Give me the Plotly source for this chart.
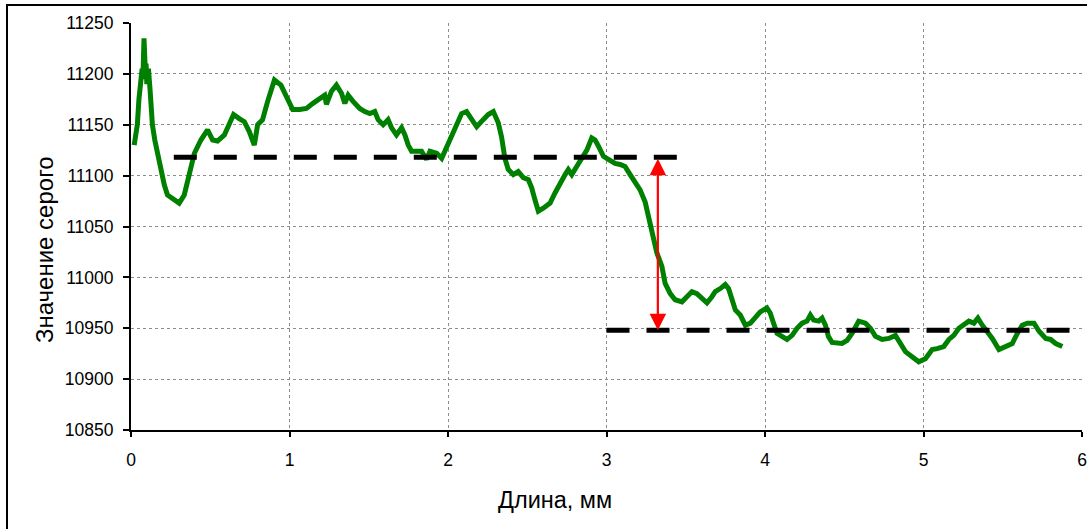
import plotly.graph_objects as go

# Profile data (length in mm, grey value)
length_mm = [0.02, 0.04, 0.05, 0.06, 0.07, 0.075, 0.082, 0.09, 0.095, 0.10, 0.11, 0.12, 0.135, 0.15,
             0.167, 0.188, 0.21, 0.23, 0.262, 0.285, 0.304, 0.336, 0.367, 0.40, 0.441, 0.483, 0.515,
             0.546, 0.589, 0.62, 0.647, 0.683, 0.715, 0.747, 0.778, 0.799, 0.83, 0.862, 0.905, 0.946,
             0.978, 1.02, 1.064, 1.107, 1.148, 1.2, 1.222, 1.233, 1.265, 1.296, 1.328, 1.349, 1.37,
             1.401, 1.443, 1.475, 1.507, 1.538, 1.559, 1.591, 1.622, 1.644, 1.675, 1.707, 1.728, 1.749,
             1.77, 1.802, 1.833, 1.865, 1.886, 1.928, 1.96, 1.98, 2.012, 2.044, 2.086, 2.117, 2.149,
             2.181, 2.222, 2.254, 2.286, 2.317, 2.338, 2.359, 2.38, 2.412, 2.443, 2.475, 2.507, 2.528,
             2.549, 2.57, 2.601, 2.644, 2.675, 2.707, 2.739, 2.759, 2.781, 2.812, 2.844, 2.876, 2.907,
             2.928, 2.949, 2.981, 3.012, 3.054, 3.086, 3.117, 3.149, 3.18, 3.212, 3.244, 3.265, 3.286,
             3.318, 3.349, 3.37, 3.402, 3.433, 3.476, 3.507, 3.539, 3.57, 3.602, 3.634, 3.665, 3.686,
             3.718, 3.749, 3.77, 3.792, 3.813, 3.844, 3.876, 3.908, 3.939, 3.97, 4.012, 4.033, 4.054,
             4.076, 4.107, 4.139, 4.171, 4.202, 4.234, 4.265, 4.286, 4.307, 4.339, 4.36, 4.381, 4.40,
             4.423, 4.455, 4.486, 4.518, 4.549, 4.591, 4.634, 4.665, 4.697, 4.739, 4.781, 4.823, 4.855,
             4.886, 4.928, 4.97, 5.012, 5.055, 5.086, 5.128, 5.16, 5.191, 5.223, 5.255, 5.286, 5.318,
             5.343, 5.371, 5.402, 5.434, 5.476, 5.518, 5.56, 5.592, 5.623, 5.655, 5.697, 5.729, 5.771,
             5.802, 5.834, 5.876]
grey_value = [11130, 11150, 11175, 11190, 11205, 11195, 11235, 11205, 11210, 11190, 11205, 11185, 11150,
              11135, 11122, 11104, 11091, 11081, 11078, 11076, 11073, 11081, 11101, 11122, 11135, 11145,
              11135, 11134, 11140, 11150, 11160, 11156, 11153, 11143, 11130, 11150, 11155, 11173, 11194,
              11189, 11178, 11165, 11165, 11166, 11171, 11176, 11179, 11170, 11183, 11189, 11181, 11171,
              11179, 11173, 11166, 11163, 11161, 11163, 11155, 11150, 11155, 11147, 11140, 11147, 11140,
              11130, 11124, 11124, 11124, 11116, 11124, 11122, 11117, 11124, 11135, 11147, 11161, 11163,
              11155, 11148, 11155, 11160, 11163, 11152, 11138, 11117, 11106, 11101, 11104, 11098, 11096,
              11088, 11076, 11065, 11068, 11073, 11083, 11093, 11101, 11106, 11101, 11109, 11116, 11125,
              11137, 11135, 11129, 11119, 11116, 11112, 11111, 11109, 11101, 11094, 11086, 11074, 11060,
              11045, 11024, 11011, 10994, 10984, 10978, 10976, 10981, 10986, 10984, 10980, 10975, 10981,
              10986, 10989, 10993, 10989, 10978, 10968, 10963, 10953, 10955, 10961, 10966, 10970, 10965,
              10955, 10945, 10942, 10939, 10943, 10950, 10955, 10957, 10963, 10958, 10957, 10960, 10953,
              10942, 10936, 10935, 10935, 10938, 10945, 10957, 10955, 10950, 10942, 10939, 10940, 10943,
              10934, 10927, 10922, 10917, 10920, 10929, 10930, 10932, 10939, 10943, 10950, 10953, 10957,
              10955, 10960, 10953, 10947, 10940, 10929, 10932, 10935, 10945, 10953, 10955, 10955, 10947,
              10940, 10939, 10935, 10932]

# Reference levels
upper_level_x = [0.27, 3.45]
upper_level_y = [11118, 11118]
lower_level_x = [3.0, 5.93]
lower_level_y = [10948, 10948]
arrow_x = 3.324

x_ticks = [0, 1, 2, 3, 4, 5, 6]
y_ticks = [10850, 10900, 10950, 11000, 11050, 11100, 11150, 11200, 11250]

fig = go.Figure()
fig.add_trace(go.Scatter(x=length_mm, y=grey_value, mode="lines",
                         line=dict(color="#008000", width=5), showlegend=False))
fig.add_trace(go.Scatter(x=upper_level_x, y=upper_level_y, mode="lines",
                         line=dict(color="black", width=5, dash="23px,17px"), showlegend=False))
fig.add_trace(go.Scatter(x=lower_level_x, y=lower_level_y, mode="lines",
                         line=dict(color="black", width=5, dash="23px,17px"), showlegend=False))

fig.add_annotation(x=arrow_x, y=lower_level_y[0], ax=arrow_x, ay=upper_level_y[0],
                   xref="x", yref="y", axref="x", ayref="y", text="",
                   showarrow=True, arrowcolor="#ff0000", arrowwidth=2.2,
                   arrowhead=2, arrowsize=1.5, startarrowhead=2, startarrowsize=1.5,
                   arrowside="end+start")

L, R, T, B = 131, 5, 23, 99
W, H = 1087, 529
pw, ph = W - L - R, H - T - B

def px(xp):
    return (xp - L) / pw

def py(yp):
    return (H - B - yp) / ph

fig.add_annotation(x=px(555), y=py(500), xref="paper", yref="paper", text="Длина, мм",
                   showarrow=False, font=dict(family="Liberation Sans, Arial", size=23.5, color="black"),
                   xanchor="center", yanchor="middle")
fig.add_annotation(x=px(44), y=py(250), xref="paper", yref="paper", text="Значение серого",
                   showarrow=False, textangle=-90,
                   font=dict(family="Liberation Sans, Arial", size=24, color="black"),
                   xanchor="center", yanchor="middle")

fig.add_shape(type="rect", xref="paper", yref="paper", x0=px(7), y0=py(560), x1=px(1100), y1=py(5),
              line=dict(color="black", width=2), fillcolor="rgba(0,0,0,0)", layer="above")

fig.update_xaxes(range=[0, 6], tickvals=x_ticks, ticktext=[str(v) for v in x_ticks],
                 showgrid=True, gridcolor="#8c8c8c", griddash="dot", gridwidth=1,
                 showline=True, linecolor="black", linewidth=2, ticks="outside", ticklen=5,
                 tickcolor="black", tickwidth=1.5, zeroline=False, ticklabelstandoff=8,
                 automargin=False,
                 tickfont=dict(family="Liberation Sans, Arial", size=17.5, color="black"))
fig.update_yaxes(range=[10850, 11250], tickvals=y_ticks, ticktext=[str(v) for v in y_ticks],
                 showgrid=True, gridcolor="#8c8c8c", griddash="dot", gridwidth=1,
                 showline=True, linecolor="black", linewidth=2, ticks="outside", ticklen=6,
                 tickcolor="black", tickwidth=1.5, zeroline=False, ticklabelstandoff=6,
                 automargin=False,
                 tickfont=dict(family="Liberation Sans, Arial", size=17.5, color="black"))

fig.update_layout(width=W, height=H, margin=dict(l=L, r=R, t=T, b=B),
                  plot_bgcolor="white", paper_bgcolor="white", showlegend=False)

fig.write_html("out.html")
